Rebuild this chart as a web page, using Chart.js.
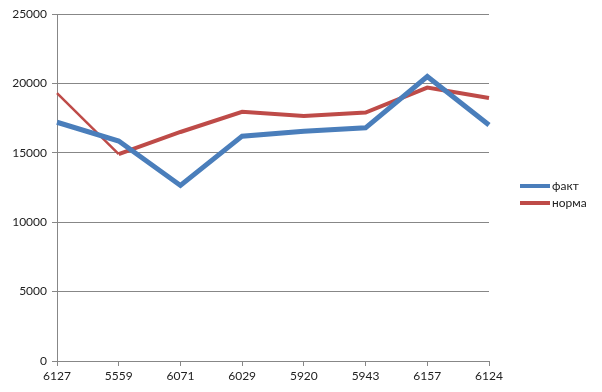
<!DOCTYPE html>
<html>
<head>
<meta charset="utf-8">
<script src="https://cdn.jsdelivr.net/npm/chart.js@4/dist/chart.umd.min.js"></script>
<style>
  html, body { margin: 0; padding: 0; background: #fff; }
  #wrap { width: 602px; height: 392px; }
</style>
</head>
<body>
<div id="wrap"><canvas id="chart"></canvas></div>
<script>
const categories = ['6127', '5559', '6071', '6029', '5920', '5943', '6157', '6124'];
const faktValues = [17200, 15850, 12650, 16200, 16550, 16800, 20500, 17000];
const normaValues = [19300, 14900, 16500, 17950, 17650, 17900, 19700, 18950];
const seriesNames = ['факт', 'норма'];
const seriesColors = ['#4a7ebb', '#be4b48'];

const gridColor = '#878787';

// legend drawn by hand, to the right of the plot
const sideLegend = {
    id: 'sideLegend',
    afterDraw(chart) {
        const ctx = chart.ctx;
        const x = 520;
        let y = 186;
        ctx.save();
        ctx.font = '12px Lato';
        ctx.textBaseline = 'middle';
        chart.data.datasets.forEach(ds => {
            ctx.fillStyle = ds.borderColor;
            ctx.fillRect(x, y - 2, 30, 4);
            ctx.fillStyle = '#222';
            ctx.fillText(ds.label, x + 32, y);
            y += 17;
        });
        ctx.restore();
    }
};

new Chart(document.getElementById('chart'), {
    type: 'line',
    data: {
        labels: categories,
        datasets: [{
            label: seriesNames[0],
            data: faktValues,
            borderColor: seriesColors[0],
            backgroundColor: seriesColors[0],
            borderWidth: 5,
            pointRadius: 0,
            tension: 0,
            fill: false
        }, {
            label: seriesNames[1],
            data: normaValues,
            borderColor: seriesColors[1],
            backgroundColor: seriesColors[1],
            borderWidth: 4,
            pointRadius: 0,
            tension: 0,
            fill: false,
            segment: {
                borderWidth: c => c.p0DataIndex === 0 ? 2.5 : 4
            }
        }]
    },
    options: {
        responsive: true,
        maintainAspectRatio: false,
        animation: false,
        layout: {
            padding: { top: 14, right: 113, left: 0, bottom: 0 }
        },
        scales: {
            x: {
                offset: false,
                grid: {
                    drawOnChartArea: false,
                    drawTicks: true,
                    tickLength: 5,
                    color: gridColor
                },
                border: { color: gridColor },
                ticks: {
                    color: '#222',
                    font: { family: 'Lato', size: 12 },
                    maxRotation: 0,
                    autoSkip: false,
                    padding: 3
                },
                afterFit(scale) { scale.height = 31; }
            },
            y: {
                min: 0,
                max: 25000,
                ticks: {
                    stepSize: 5000,
                    color: '#222',
                    font: { family: 'Lato', size: 12 },
                    padding: 5,
                    callback: value => String(value)
                },
                grid: {
                    color: gridColor,
                    tickLength: 5
                },
                border: { color: gridColor },
                afterFit(scale) { scale.width = 57; }
            }
        },
        plugins: {
            legend: { display: false },
            tooltip: { enabled: false }
        }
    },
    plugins: [sideLegend]
});
</script>
</body>
</html>
